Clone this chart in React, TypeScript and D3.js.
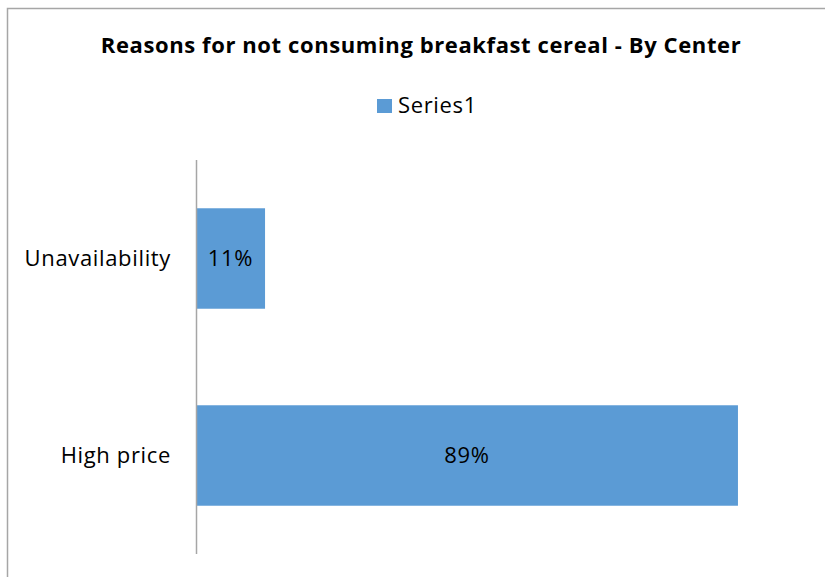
import React from "react";
import * as d3 from "d3";

const categories = ["Unavailability", "High price"];
const values = [11.3, 88.7];
const seriesName = "Series1";
const title = "Reasons for not consuming breakfast cereal - By Center";

const W = 825;
const H = 577;
const FONT = "'Open Sans', sans-serif";
const BAR = "#5b9bd5";
const LS = 0.65;

export default function App() {
  const y = d3.scaleBand<string>().domain(categories).range([160, 554]).paddingInner(0.49).paddingOuter(0.245);
  const x = d3.scaleLinear().domain([0, 100]).range([196, 807]);
  const fmt = (v: number) => d3.format(".0f")(v) + "%";
  return (
    <svg width={W} height={H} style={{ position: "absolute", left: 0, top: 0 }}>
      <rect x={0} y={0} width={W} height={H} fill="#fff" />
      <path d={`M7.5,${H} V8.5 H${W}`} fill="none" stroke="#a6a6a6" strokeWidth={1.5} />
      <text x={421} y={53} textAnchor="middle" fontFamily={FONT} fontWeight="bold" fontSize={22} letterSpacing={0.6} fill="#000">
        {title}
      </text>
      <rect x={377} y={99} width={15} height={14} fill={BAR} />
      <text x={398} y={113} fontFamily={FONT} fontSize={22} letterSpacing={LS} fill="#000">{seriesName}</text>
      {categories.map((c, i) => (
        <g key={c}>
          <rect x={x(0)} y={y(c)!} width={x(values[i]) - x(0)} height={y.bandwidth()} fill={BAR} />
          <text x={(x(0) + x(values[i])) / 2} y={y(c)! + y.bandwidth() / 2} dy="0.35em" textAnchor="middle" fontFamily={FONT} fontSize={22} letterSpacing={LS} fill="#000">
            {fmt(values[i])}
          </text>
          <text x={171} y={y(c)! + y.bandwidth() / 2} dy="0.35em" textAnchor="end" fontFamily={FONT} fontSize={22} letterSpacing={LS} fill="#000">
            {c}
          </text>
        </g>
      ))}
      <line x1={196.5} x2={196.5} y1={160} y2={554} stroke="#a6a6a6" strokeWidth={1.5} />
    </svg>
  );
}
